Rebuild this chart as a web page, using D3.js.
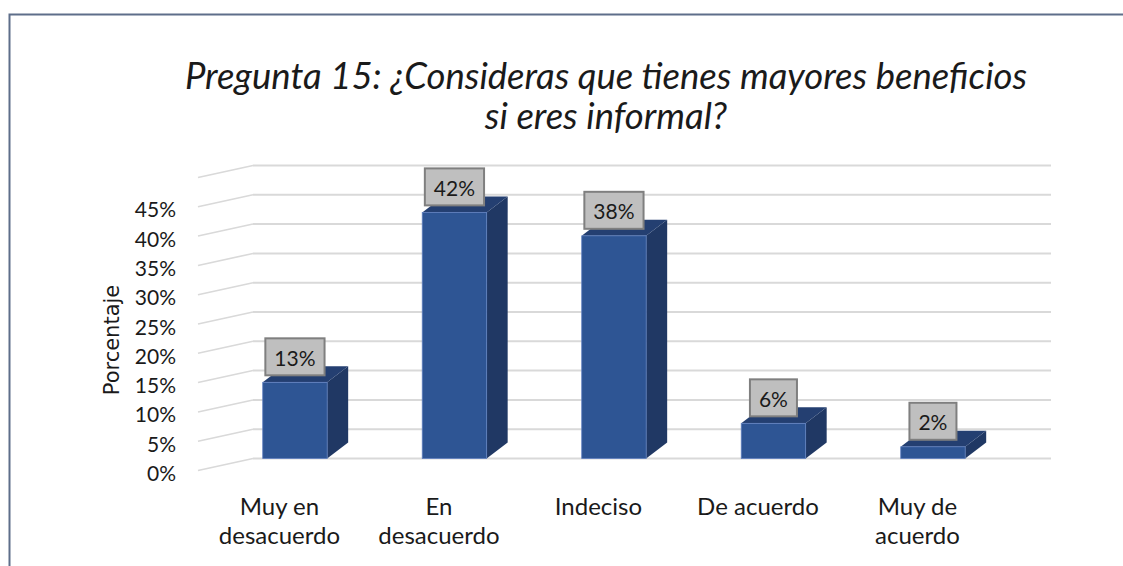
<!DOCTYPE html>
<html>
<head>
<meta charset="utf-8">
<script src="https://cdn.jsdelivr.net/npm/d3@7"></script>
<style>
  body { margin: 0; background: #fff; }
  text { fill: #1a1a1a; }
</style>
</head>
<body>
<div id="chart-area"></div>
<script>
var categories = [["Muy en", "desacuerdo"], ["En", "desacuerdo"], ["Indeciso"], ["De acuerdo"], ["Muy de", "acuerdo"]];
var values = [13, 42, 38, 6, 2];
var gridValues = [0, 5, 10, 15, 20, 25, 30, 35, 40, 45, 50];
var tickValues = [0, 5, 10, 15, 20, 25, 30, 35, 40, 45];
var titleLines = ["Pregunta 15: ¿Consideras que tienes mayores beneficios", "si eres informal?"];

var width = 1123;
var height = 566;
var font = "Lato, 'Noto Sans', sans-serif";
var floorDx = 55, floorDy = 12;   // back wall -> front edge
var barDx = 21, barDy = 16;       // bar depth

var svg = d3.select("#chart-area")
    .append("svg")
    .attr("width", width)
    .attr("height", height)
    .style("font-family", font);

// chart border (only top and left visible)
svg.append("path")
    .attr("d", "M9.5,566 L9.5,14.5 L1123,14.5")
    .attr("fill", "none")
    .attr("stroke", "#5e6e8a")
    .attr("stroke-width", 2);

var x = d3.scaleBand()
    .domain(d3.range(categories.length))
    .range([215.2, 215.2 + 159.5 * categories.length])
    .paddingInner(0.596)
    .paddingOuter(0.298);

var y = d3.scaleLinear()
    .domain([0, 50])
    .range([458.5, 165.5]);

var wallLeft = 253, wallRight = 1051;

// back wall gridlines + side wall diagonals
var grid = svg.append("g");
grid.selectAll("line.h").data(gridValues).enter().append("line")
    .attr("class", "h")
    .attr("x1", wallLeft).attr("x2", wallRight)
    .attr("y1", (d) => y(d)).attr("y2", (d) => y(d))
    .attr("stroke", "#d9d9d9").attr("stroke-width", 2);
grid.selectAll("line.d").data(gridValues).enter().append("line")
    .attr("class", "d")
    .attr("x1", wallLeft).attr("x2", wallLeft - floorDx)
    .attr("y1", (d) => y(d)).attr("y2", (d) => y(d) + floorDy)
    .attr("stroke", "#d9d9d9").attr("stroke-width", 1.5);

// y tick labels
svg.append("g").selectAll("text").data(tickValues).enter().append("text")
    .attr("x", 176)
    .attr("y", (d) => y(d) + floorDy + 2)
    .attr("text-anchor", "end")
    .attr("dominant-baseline", "central")
    .attr("font-size", "21px")
    .text((d) => d + "%");

// y axis title
svg.append("text")
    .attr("transform", "translate(112, 340) rotate(-90)")
    .attr("text-anchor", "middle")
    .attr("dominant-baseline", "central")
    .style("font-family", "'DejaVu Sans', sans-serif")
    .attr("font-size", "21px")
    .text("Porcentaje");

// bars
var base = y(0);
var bars = svg.append("g").selectAll("g").data(values).enter().append("g");

bars.append("polygon")
    .attr("points", (d, i) => {
        var x1 = x(i) + x.bandwidth(), t = y(d);
        return [[x1, t], [x1 + barDx, t - barDy], [x1 + barDx, base - barDy], [x1, base]].join(" ");
    })
    .attr("fill", "#203864");

bars.append("polygon")
    .attr("points", (d, i) => {
        var x0 = x(i), x1 = x(i) + x.bandwidth(), t = y(d);
        return [[x0, t], [x0 + barDx, t - barDy], [x1 + barDx, t - barDy], [x1, t]].join(" ");
    })
    .attr("fill", "#243f71");

bars.append("rect")
    .attr("x", (d, i) => x(i))
    .attr("y", (d) => y(d))
    .attr("width", x.bandwidth())
    .attr("height", (d) => base - y(d))
    .attr("fill", "#2e5594")
    .attr("stroke", "#5f7fbf")
    .attr("stroke-width", 0.8);

// data labels
bars.each(function(d, i) {
    var g = d3.select(this);
    var cx = x(i) + x.bandwidth() / 2;
    var bottom = y(d) - 7;
    var box = g.append("rect");
    var t = g.append("text")
        .attr("x", cx)
        .attr("y", bottom - 18)
        .attr("text-anchor", "middle")
        .attr("dominant-baseline", "central")
        .attr("font-size", "21px")
        .text(d + "%");
    var w = t.node().getComputedTextLength() + 18;
    box.attr("x", cx - w / 2)
        .attr("y", bottom - 37)
        .attr("width", w)
        .attr("height", 37)
        .attr("fill", "#bfbfbf")
        .attr("stroke", "#7f7f7f")
        .attr("stroke-width", 2);
});

// category labels
var cat = svg.append("g").selectAll("text").data(categories).enter().append("text")
    .attr("x", (d, i) => x(i) + x.bandwidth() / 2 - 15.5)
    .attr("y", 515)
    .attr("text-anchor", "middle")
    .attr("font-size", "24px");
cat.selectAll("tspan").data((d) => d).enter().append("tspan")
    .attr("x", function() { return d3.select(this.parentNode).attr("x"); })
    .attr("dy", (d, j) => j === 0 ? 0 : 29)
    .text((d) => d);

// title
svg.append("g").selectAll("text").data(titleLines).enter().append("text")
    .attr("x", 606)
    .attr("y", (d, i) => 89 + i * 40)
    .attr("text-anchor", "middle")
    .attr("font-style", "italic")
    .attr("font-size", "36.5px")
    .text((d) => d);
</script>
</body>
</html>
